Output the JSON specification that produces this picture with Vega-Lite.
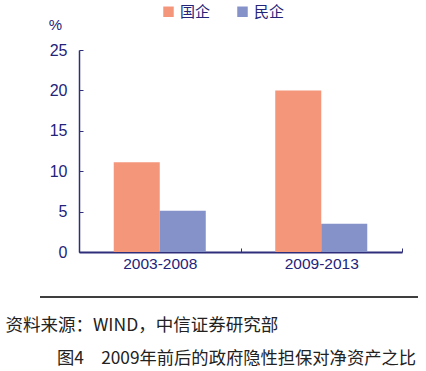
{
  "$schema": "https://vega.github.io/schema/vega-lite/v6.json",
  "width": 323,
  "height": 202,
  "autosize": {"type": "none"},
  "padding": {"left": 79, "top": 50, "right": 24, "bottom": 119},
  "background": "white",
  "config": {"view": {"stroke": null}, "font": "Liberation Sans"},
  "data": {
    "values": [
      {"period": "2003-2008", "type": "国企", "value": 11.1},
      {"period": "2003-2008", "type": "民企", "value": 5.1},
      {"period": "2009-2013", "type": "国企", "value": 20.0},
      {"period": "2009-2013", "type": "民企", "value": 3.5}
    ]
  },
  "title": {
    "text": "图4　2009年前后的政府隐性担保对净资产之比",
    "orient": "bottom",
    "anchor": "start",
    "dx": 52,
    "offset": 16,
    "font": "Noto Sans CJK SC",
    "fontSize": 17.3,
    "fontWeight": "normal",
    "color": "#222222"
  },
  "resolve": {"scale": {"y": "independent", "x": "independent"}},
  "layer": [
    {
      "mark": {"type": "bar"},
      "encoding": {
        "x": {
          "field": "period",
          "type": "nominal",
          "scale": {"paddingInner": 0, "paddingOuter": 0},
          "axis": {
            "title": "资料来源：WIND，中信证券研究部",
            "titleFont": "Noto Sans CJK SC",
            "titleFontSize": 17.5,
            "titleFontWeight": "normal",
            "titleColor": "#222222",
            "titleAnchor": "start",
            "titleAlign": "left",
            "titleBaseline": "middle",
            "titleX": -74,
            "titleY": 73,
            "labelAngle": 0,
            "labelFontSize": 15.5,
            "labelColor": "#23237a",
            "labelPadding": 8,
            "tickBand": "extent",
            "tickSize": -4,
            "tickColor": "#2E2E7A",
            "domainColor": "#2E2E7A",
            "domainWidth": 2
          }
        },
        "xOffset": {
          "field": "type",
          "type": "nominal",
          "scale": {"paddingInner": 0, "paddingOuter": 0.755}
        },
        "y": {
          "field": "value",
          "type": "quantitative",
          "scale": {"domain": [0, 25], "nice": false},
          "axis": {
            "title": "%",
            "titleAngle": 0,
            "titleX": -24,
            "titleY": -18,
            "titleAlign": "center",
            "titleFontSize": 15,
            "titleFontWeight": "normal",
            "titleColor": "#23237a",
            "values": [0, 5, 10, 15, 20, 25],
            "grid": false,
            "labelFontSize": 16,
            "labelColor": "#23237a",
            "labelPadding": 16,
            "tickSize": -4,
            "tickColor": "#2E2E7A",
            "domainColor": "#2E2E7A",
            "domainWidth": 1.5
          }
        },
        "color": {
          "field": "type",
          "type": "nominal",
          "scale": {"domain": ["国企", "民企"], "range": ["#F4967A", "#8591C9"]},
          "legend": {
            "title": null,
            "orient": "none",
            "direction": "horizontal",
            "legendX": 82,
            "legendY": -46,
            "symbolType": "square",
            "symbolSize": 110,
            "symbolStrokeWidth": 0,
            "labelFont": "Noto Sans CJK SC",
            "labelFontSize": 15,
            "labelColor": "#23237a",
            "columnPadding": 24,
            "labelOffset": 4
          }
        }
      }
    },
    {
      "mark": {"type": "rule", "color": "#333333", "strokeWidth": 1},
      "encoding": {
        "x": {"datum": -0.1207, "type": "quantitative", "scale": {"domain": [0, 1], "nice": false, "zero": false}, "axis": null},
        "x2": {"datum": 1.0495},
        "y": {"datum": -0.2228, "type": "quantitative", "scale": {"domain": [0, 1], "nice": false, "zero": false}, "axis": null}
      }
    }
  ]
}
